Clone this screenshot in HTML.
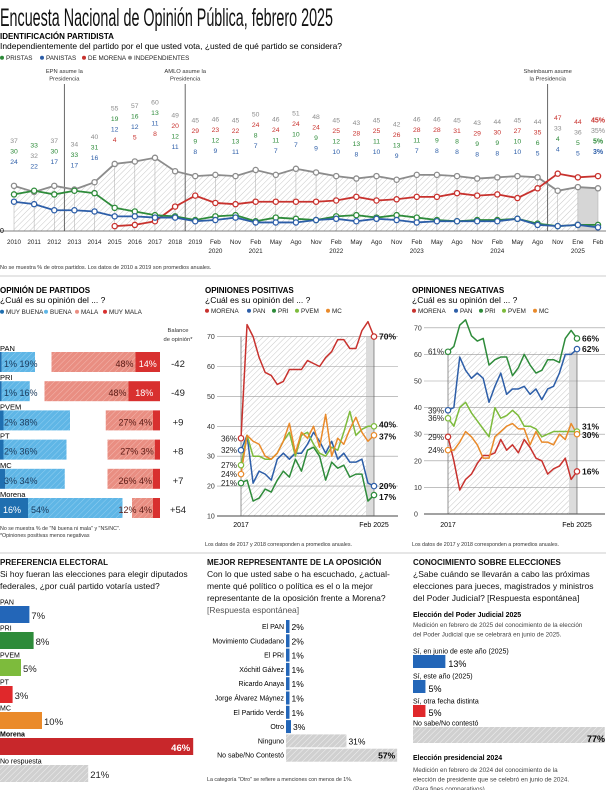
<!DOCTYPE html>
<html><head><meta charset="utf-8"><style>
html,body{margin:0;padding:0;background:#fff}
svg{display:block;font-family:"Liberation Sans",sans-serif}
</style></head><body>
<svg id="s" width="606" height="790" viewBox="0 0 606 790" xmlns="http://www.w3.org/2000/svg">
<defs>
<pattern id="hatch" width="4" height="4" patternUnits="userSpaceOnUse" patternTransform="rotate(45)"><rect width="4" height="4" fill="#fff"/><line x1="0" y1="0" x2="0" y2="4" stroke="#c8c8c8" stroke-width="1"/></pattern>
<pattern id="hb" width="4" height="4" patternUnits="userSpaceOnUse" patternTransform="rotate(45)"><rect width="4" height="4" fill="#5fb6e6"/><line x1="0" y1="0" x2="0" y2="4" stroke="#8fcdf0" stroke-width="1"/></pattern>
<pattern id="hr" width="4" height="4" patternUnits="userSpaceOnUse" patternTransform="rotate(45)"><rect width="4" height="4" fill="#e98e82"/><line x1="0" y1="0" x2="0" y2="4" stroke="#f3b6ad" stroke-width="1"/></pattern>
<pattern id="hg" width="4" height="4" patternUnits="userSpaceOnUse" patternTransform="rotate(45)"><rect width="4" height="4" fill="#d0d0d0"/><line x1="0" y1="0" x2="0" y2="4" stroke="#f0f0f0" stroke-width="1"/></pattern>
</defs>
<text x="0" y="26" font-size="25" textLength="333" lengthAdjust="spacingAndGlyphs" fill="#111">Encuesta Nacional de Opinión Pública, febrero 2025</text>
<text x="0" y="39" font-size="8" font-weight="bold">IDENTIFICACIÓN PARTIDISTA</text>
<text x="0" y="49" font-size="8.5" textLength="342" lengthAdjust="spacingAndGlyphs">Independientemente del partido por el que usted vota, ¿usted de qué partido se considera?</text>
<g id="topLegend"></g>
<g id="top"></g>
<text x="0" y="269" font-size="5.5" fill="#333">No se muestra % de otros partidos. Los datos de 2010 a 2019 son promedios anuales.</text>
<line x1="0" y1="276" x2="606" y2="276" stroke="#999" stroke-width="0.6"/>
<g id="op"></g>
<g id="pos"></g>
<g id="neg"></g>
<line x1="0" y1="553" x2="606" y2="553" stroke="#999" stroke-width="0.6"/>
<g id="pref"></g>
<g id="rep"></g>
<g id="con"></g>
</svg>
<script>
// ---- Top chart data ----
const topCats = ["2010","2011","2012","2013","2014","2015","2016","2017","2018","2019","Feb","Nov","Feb","May","Ago","Nov","Feb","May","Ago","Nov","Feb","May","Ago","Nov","Feb","May","Ago","Nov","Ene","Feb"];
const topCats2 = ["","","","","","","","","","","2020","","2021","","","","2022","","","","2023","","","","2024","","","","2025",""];
const indep = [37,32,37,34,40,55,57,60,49,45,46,45,50,46,51,48,45,43,45,42,46,46,45,43,44,45,44,33,36,35];
const pri = [30,33,30,33,31,19,16,13,12,9,12,13,8,11,10,9,12,13,11,13,11,9,8,9,9,10,6,4,5,5];
const pan = [24,22,17,17,16,12,12,11,11,8,9,11,7,7,7,9,10,8,10,9,7,8,8,8,8,10,5,4,5,3];
const morena = [null,null,null,null,null,4,5,8,20,29,23,22,24,24,24,24,25,28,25,26,28,28,31,29,30,27,35,47,44,45];
// ---- Opinion de partidos ----
const opNames = ["PAN","PRI","PVEM","PT","MC","Morena"];
const opMuyBuena = [1,1,2,2,3,16];
const opBuena = [19,16,38,36,34,54];
const opMala = [48,48,27,27,26,12];
const opMuyMala = [14,18,4,3,4,4];
const opBalance = ["-42","-49","+9","+8","+7","+54"];
// ---- Opiniones positivas ----
const posMorena = [36,74,70,63,58,57,54,55,59,59,59,62,61,60,63,65,69,69,66,66,72,75,70];
const posPAN = [32,37,21,25,24,22,29,31,29,31,31,34,38,35,31,35,29,31,28,28,29,21,20];
const posPRI = [21,22,15,16,19,18,22,25,23,29,25,32,33,30,22,28,26,27,23,24,24,15,17];
const posPVEM = [27,37,30,30,29,29,31,35,38,30,37,38,34,31,30,33,32,38,45,37,39,40,40];
const posMC = [24,37,35,34,30,29,31,35,41,31,38,36,40,33,44,30,36,34,39,43,38,35,37];
// ---- Opiniones negativas ----
const negMorena = [29,20,9,13,15,19,22,22,23,28,24,26,23,28,25,21,20,15,17,18,21,13,16];
const negPAN = [39,40,59,54,51,53,51,42,48,53,45,47,47,48,45,47,43,47,48,53,60,60,62];
const negPRI = [61,63,71,73,67,65,66,56,58,59,59,52,55,60,56,53,54,58,58,57,66,69,66];
const negPVEM = [36,33,40,42,38,35,32,29,40,36,37,39,37,33,33,32,29,30,31,31,31,31,31];
const negMC = [24,24,27,31,29,26,21,21,29,31,33,34,32,32,26,31,27,27,26,30,28,34,30];
// ---- Preferencia ----
const prefNames = ["PAN","PRI","PVEM","PT","MC","Morena","No respuesta"];
const prefVals = [7,8,5,3,10,46,21];
// ---- Representante ----
const repNames = ["El PAN","Movimiento Ciudadano","El PRI","Xóchitl Gálvez","Ricardo Anaya","Jorge Álvarez Máynez","El Partido Verde","Otro","Ninguno","No sabe/No Contestó"];
const repVals = [2,2,1,1,1,1,1,3,31,57];
// ---- Conocimiento ----
const conNames = ["Sí, en junio de este año (2025)","Sí, este año (2025)","Sí, otra fecha distinta","No sabe/No contestó"];
const conVals = [13,5,5,77];

const NS="http://www.w3.org/2000/svg";
function mk(parent,tag,attrs,txt){const e=document.createElementNS(NS,tag);for(const k in attrs)e.setAttribute(k,attrs[k]);if(txt!==undefined)e.textContent=txt;parent.appendChild(e);return e;}
const C={ind:"#8c8c8c",pri:"#2e8b3a",pan:"#2d5ea8",mor:"#c8322e",pvem:"#7dbb3c",mc:"#e98a2a"};

function legend(g,x,y,items){let cx=x;items.forEach(it=>{
  const d=mk(g,"circle",{cx:cx+2,cy:y-2.3,r:2,fill:it[1]});
  
  
  const t=mk(g,"text",{x:cx+6,y:y,"font-size":6.3,fill:"#222"},it[0]);
  
  
  cx+=it[2];});}
legend(document.getElementById('topLegend'),0,60,[["PRISTAS",C.pri,40],["PANISTAS",C.pan,42],["DE MORENA",C.mor,46],["INDEPENDIENTES",C.ind,60]]);

// ---- top chart ----
(function(){
const g=document.getElementById('top');
const x=i=>14+i*(584/29), y=v=>231-v*1.22;
let pts=indep.map((v,i)=>x(i)+","+y(v)).join(" ");
const area=mk(g,"polygon",{points:x(0)+",231 "+pts+" "+x(29)+",231",fill:"url(#hatch)"});


const sh=mk(g,"rect",{x:x(28),y:y(indep[28]),width:x(29)-x(28),height:231-y(indep[28]),fill:"#d6d6d6"});


indep.forEach((v,i)=>{const l=mk(g,"line",{x1:x(i),y1:231,x2:x(i),y2:y(v),stroke:"#aaa","stroke-width":0.5});
 
 });
const b=mk(g,"line",{x1:0,y1:231,x2:606,y2:231,stroke:"#555","stroke-width":0.7});


const z=mk(g,"text",{x:0,y:233,"font-size":7},"0");


[[2.5,"EPN asume la","Presidencia"],[8.5,"AMLO asume la","Presidencia"],[26.5,"Sheinbaum asume","la Presidencia"]].forEach(e=>{
 const ex=x(e[0]);
 const l=mk(g,"line",{x1:ex,y1:84,x2:ex,y2:231,stroke:"#444","stroke-width":0.8});
 
 
 const t1=mk(g,"text",{x:ex,y:73,"font-size":5.8,"text-anchor":"middle",fill:"#333"},e[1]);
 
 
 const t2=mk(g,"text",{x:ex,y:80.5,"font-size":5.8,"text-anchor":"middle",fill:"#333"},e[2]);
 
 
});
const series=[[indep,C.ind,"independientes"],[morena,C.mor,"morena"],[pri,C.pri,"pristas"],[pan,C.pan,"panistas"]];
series.forEach(s=>{
 let p=[];s[0].forEach((v,i)=>{if(v!==null)p.push(x(i)+","+y(v));});
 const pl=mk(g,"polyline",{points:p.join(" "),fill:"none",stroke:s[1],"stroke-width":1.8});
 
 
});
series.forEach(s=>{s[0].forEach((v,i)=>{if(v===null)return;
 const c=mk(g,"circle",{cx:x(i),cy:y(v),r:2.6,fill:"#fff",stroke:s[1],"stroke-width":1.3});
 
 });});
for(let i=0;i<30;i++){
 let vals=series.map(s=>[s[0][i],s[1]]).filter(a=>a[0]!==null).sort((a,b)=>b[0]-a[0]);
 const top=y(vals[0][0])-22; const n=vals.length;
 vals.forEach((a,k)=>{
  const last=i===29;
  const t=mk(g,"text",{x:x(i),y:top-(n-1-k)*10.5,"font-size":last?7:6.8,"font-weight":last&&k!=1?"bold":"normal","text-anchor":"middle",fill:a[1]},a[0]+(last?"%":""));
  
  });
 const t=mk(g,"text",{x:x(i),y:244,"font-size":6.3,"text-anchor":"middle",fill:"#222"},topCats[i]);
 
 
 if(topCats2[i]){const t2=mk(g,"text",{x:x(i),y:253,"font-size":6.3,"text-anchor":"middle",fill:"#222"},topCats2[i]);
  
  }
}
})();

// ---- opinion de partidos ----
(function(){
const g=document.getElementById('op');
const t=mk(g,"text",{x:0,y:293,"font-size":8,"font-weight":"bold"},"OPINIÓN DE PARTIDOS");


const q=mk(g,"text",{x:0,y:303,"font-size":8.5},"¿Cuál es su opinión del ... ?");


legend(g,0,314,[["MUY BUENA","#1f6fb0",44],["BUENA","#5fb6e6",31],["MALA","#e98e82",28],["MUY MALA","#d8302f",40]]);
const b1=mk(g,"text",{x:178,y:332,"font-size":5.8,"text-anchor":"middle",fill:"#333"},"Balance");


const b2=mk(g,"text",{x:178,y:341,"font-size":5.8,"text-anchor":"middle",fill:"#333"},"de opinión*");


const k=1.75;
opNames.forEach((n,i)=>{
 const by=352+i*29.2,h=20;
 const l=mk(g,"text",{x:0,y:by-1,"font-size":7.5},n);
 
 
 const r1=mk(g,"rect",{x:0,y:by,width:opMuyBuena[i]*k,height:h,fill:"#1f6fb0"});
 
 
 const r2=mk(g,"rect",{x:opMuyBuena[i]*k,y:by,width:opBuena[i]*k,height:h,fill:"url(#hb)"});
 
 
 const mmw=opMuyMala[i]*k, mw=opMala[i]*k;
 const r3=mk(g,"rect",{x:160-mmw-mw,y:by,width:mw,height:h,fill:"url(#hr)"});
 
 
 const r4=mk(g,"rect",{x:160-mmw,y:by,width:mmw,height:h,fill:"#d8302f"});
 
 
 let pl;
 if(opMuyBuena[i]>=10){
  pl=mk(g,"text",{x:3,y:by+15,"font-size":9,fill:"#fff"},opMuyBuena[i]+"%");
  const p2=mk(g,"text",{x:opMuyBuena[i]*k+3,y:by+15,"font-size":9,fill:"#1a3a5c"},opBuena[i]+"%");
  
  
 } else pl=mk(g,"text",{x:4,y:by+15,"font-size":9,fill:"#1a3a5c"},opMuyBuena[i]+"% "+opBuena[i]+"%");
 
 
 let nl;
 if(opMuyMala[i]>=10){
  nl=mk(g,"text",{x:160-mmw-2,y:by+15,"font-size":9,"text-anchor":"end",fill:"#5a1a14"},opMala[i]+"%");
  const n2=mk(g,"text",{x:160-mmw/2,y:by+15,"font-size":9,"text-anchor":"middle",fill:"#fff"},opMuyMala[i]+"%");
  
  
 } else nl=mk(g,"text",{x:160-mmw-1,y:by+15,"font-size":9,"text-anchor":"end",fill:"#5a1a14"},opMala[i]+"% "+opMuyMala[i]+"%");
 
 
 const bl=mk(g,"text",{x:178,y:by+15,"font-size":9.5,"text-anchor":"middle",fill:"#222"},opBalance[i]);
 
 
});
const f1=mk(g,"text",{x:0,y:530,"font-size":5.3,fill:"#333"},"No se muestra % de \"Ni buena ni mala\" y \"NS/NC\".");


const f2=mk(g,"text",{x:0,y:537,"font-size":5.3,fill:"#333"},"*Opiniones positivas menos negativas");


})();

// ---- line charts ----
function lineChart(id,ox,title,cfg,series,ticks){
 const g=document.getElementById(id);
 const t=mk(g,"text",{x:ox,y:293,"font-size":8,"font-weight":"bold"},title);
 
 
 const q=mk(g,"text",{x:ox,y:303,"font-size":8.5},"¿Cuál es su opinión del ... ?");
 
 
 legend(g,ox,313,[["MORENA",C.mor,42],["PAN",C.pan,25],["PRI",C.pri,23],["PVEM",C.pvem,31],["MC",C.mc,22]]);
 const y=v=>cfg.y0-(v-cfg.v0)*cfg.k, n=series[0][0].length;
 const x=i=>cfg.x0+i*(cfg.x1-cfg.x0)/(n-1);
 const hr=mk(g,"rect",{x:cfg.x0,y:y(cfg.hTop),width:cfg.x1-cfg.x0,height:cfg.y0-y(cfg.hTop),fill:"url(#hatch)"});
 
 
 const sr=mk(g,"rect",{x:cfg.x1-8,y:y(cfg.hTop),width:8,height:cfg.y0-y(cfg.hTop),fill:"#dcdcdc"});
 
 
 ticks.forEach(v=>{
  const l=mk(g,"line",{x1:ox+12,y1:y(v),x2:ox+193,y2:y(v),stroke:v===cfg.v0?"#444":"#9a9a9a","stroke-width":v===cfg.v0?1:0.6});
  
  
  const tl=mk(g,"text",{x:ox+2,y:y(v)+2.5,"font-size":7,fill:"#333"},v);
  
  
 });
 [cfg.x0,cfg.x1].forEach(xx=>{const l=mk(g,"line",{x1:xx,y1:y(cfg.hTop),x2:xx,y2:cfg.y0,stroke:"#666","stroke-width":0.7});
  
  });
 series.forEach(s=>{
  const pl=mk(g,"polyline",{points:s[0].map((v,i)=>x(i)+","+y(v)).join(" "),fill:"none",stroke:s[1],"stroke-width":1.5,"stroke-linejoin":"round"});
  
  
 });
 series.forEach(s=>{
  [0,n-1].forEach(i=>{const c=mk(g,"circle",{cx:x(i),cy:y(s[0][i]),r:2.7,fill:"#fff",stroke:s[1],"stroke-width":1.2});
   
   });
  const sl=mk(g,"text",{x:cfg.x0-4,y:y(s[0][0])+s[3],"font-size":8,"text-anchor":"end",fill:"#222"},s[0][0]+"%");
  
  
  const el=mk(g,"text",{x:cfg.x1+5,y:y(s[0][n-1])+s[4],"font-size":8.5,"font-weight":"bold",fill:"#111"},s[0][n-1]+"%");
  
  
 });
 const a=mk(g,"text",{x:cfg.x0,y:527,"font-size":7,"text-anchor":"middle"},"2017");
 
 
 const b=mk(g,"text",{x:cfg.x1,y:527,"font-size":7,"text-anchor":"middle"},"Feb 2025");
 
 
 const f=mk(g,"text",{x:ox,y:546,"font-size":5.3,fill:"#333"},"Los datos de 2017 y 2018 corresponden a promedios anuales.");
 
 
}
lineChart('pos',205,"OPINIONES POSITIVAS",{x0:241,x1:374,y0:516,v0:10,k:2.99,hTop:70},
 [[posMorena,C.mor,"morena",3,3],[posPAN,C.pan,"pan",3,3],[posPRI,C.pri,"pri",3,5],[posPVEM,C.pvem,"pvem",3,1],[posMC,C.mc,"mc",3,4]],[10,20,30,40,50,60,70]);
lineChart('neg',412,"OPINIONES NEGATIVAS",{x0:448,x1:577,y0:514,v0:0,k:2.66,hTop:61},
 [[negMorena,C.mor,"morena",3,3],[negPAN,C.pan,"pan",3,3],[negPRI,C.pri,"pri",3,3],[negPVEM,C.pvem,"pvem",3,-2],[negMC,C.mc,"mc",3,4]],[0,10,20,30,40,50,60,70]);

// ---- bottom sections ----
function head(g,x,lines){lines.forEach((l,i)=>{
 const t=mk(g,"text",{x:x,y:565+i*12,"font-size":i===0?8:8.5,"font-weight":i===0?"bold":"normal",fill:l.startsWith("[")?"#555":"#111"},l);
 
 });}
(function(){
const g=document.getElementById('pref');
head(g,0,["PREFERENCIA ELECTORAL","Si hoy fueran las elecciones para elegir diputados","federales, ¿por cuál partido votaría usted?"]);
const cols=["#2366b8","#2e8b3a","#7dbb3c","#e0282b","#ea8a2a","#c8272b","url(#hg)"];
const ys=[606,632,659,686,712,738,765];
prefNames.forEach((n,i)=>{
 const w=prefVals[i]*4.2;
 const l=mk(g,"text",{x:0,y:ys[i]-1.5,"font-size":7,"font-weight":n==="Morena"?"bold":"normal"},n);
 
 
 const r=mk(g,"rect",{x:0,y:ys[i],width:w,height:17,fill:cols[i]});
 
 
 const inside=prefVals[i]>30;
 const v=mk(g,"text",{x:inside?w-3:w+2,y:ys[i]+13,"font-size":9.5,"text-anchor":inside?"end":"start","font-weight":inside?"bold":"normal",fill:inside?"#fff":"#222"},prefVals[i]+"%");
 
 
});
})();
(function(){
const g=document.getElementById('rep');
head(g,207,["MEJOR REPRESENTANTE DE LA OPOSICIÓN","Con lo que usted sabe o ha escuchado, ¿actual-","mente qué político o política es el o la mejor","representante de la oposición frente a Morena?","[Respuesta espontánea]"]);
repNames.forEach((n,i)=>{
 const yy=620+i*14.3, big=repVals[i]>10;
 const w=repVals[i]*1.95;
 const bw=big?w:(repVals[i]>2?5:3.5);
 const l=mk(g,"text",{x:284,y:yy+9,"font-size":7,"text-anchor":"end"},n);
 
 
 const r=mk(g,"rect",{x:286,y:yy,width:bw,height:13,fill:big?"url(#hg)":"#2366b8"});
 
 
 const v=mk(g,"text",{x:repVals[i]>40?286+w-2:286+bw+2,y:yy+10,"font-size":8.5,"text-anchor":repVals[i]>40?"end":"start","font-weight":repVals[i]>40?"bold":"normal"},repVals[i]+"%");
 
 
});
const f=mk(g,"text",{x:207,y:781,"font-size":5.3,fill:"#333"},"La categoría \"Otro\" se refiere a menciones con menos de 1%.");


})();
(function(){
const g=document.getElementById('con');
head(g,413,["CONOCIMIENTO SOBRE ELECCIONES","¿Sabe cuándo se llevarán a cabo las próximas","elecciones para jueces, magistrados y ministros","del Poder Judicial? [Respuesta espontánea]"]);
const s1=mk(g,"text",{x:413,y:617,"font-size":7,"font-weight":"bold"},"Elección del Poder Judicial 2025");


["Medición en febrero de 2025 del conocimiento de la elección","del Poder Judicial que se celebrará en junio de 2025."].forEach((l,i)=>{
 const t=mk(g,"text",{x:413,y:627+i*9.5,"font-size":6.3,fill:"#444"},l);
 
 });
const ys=[655,680,705,727], hs=[13,13,12,16], cols=["#2366b8","#2366b8","#e0282b","url(#hg)"];
conNames.forEach((n,i)=>{
 const w=conVals[i]*2.49;
 const l=mk(g,"text",{x:413,y:ys[i]-1.5,"font-size":7},n);
 
 
 const r=mk(g,"rect",{x:413,y:ys[i],width:w,height:hs[i],fill:cols[i]});
 
 
 const big=conVals[i]>50;
 const v=mk(g,"text",{x:big?605:413+w+3,y:ys[i]+hs[i]-1,"font-size":9,"text-anchor":big?"end":"start","font-weight":big?"bold":"normal"},conVals[i]+"%");
 
 
});
const s2=mk(g,"text",{x:413,y:760,"font-size":7,"font-weight":"bold"},"Elección presidencial 2024");


["Medición en febrero de 2024 del conocimiento de la","elección de presidente que se celebró en junio de 2024.","(Para fines comparativos)"].forEach((l,i)=>{
 const t=mk(g,"text",{x:413,y:772+i*9.5,"font-size":6.3,fill:"#444"},l);
 
 });
})();
</script>
</body></html>
